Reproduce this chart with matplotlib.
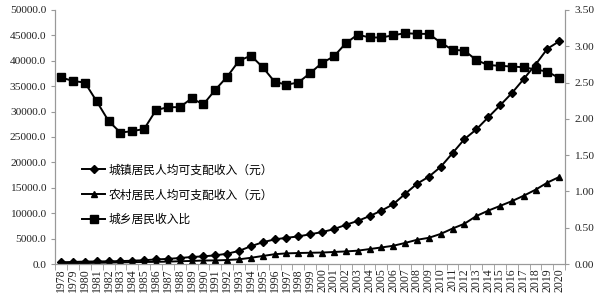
import matplotlib
matplotlib.use("Agg")
import matplotlib.pyplot as plt
import numpy as np
from matplotlib.ticker import FormatStrFormatter, FixedLocator

years = [str(y) for y in range(1978, 2021)]

urban = [343.4, 405.0, 477.6, 500.4, 535.3, 564.6, 652.1, 739.1, 900.9, 1002.1,
         1180.2, 1373.9, 1510.2, 1700.6, 2026.6, 2577.4, 3496.2, 4283.0, 4838.9, 5160.3,
         5425.1, 5854.0, 6280.0, 6859.6, 7702.8, 8472.2, 9421.6, 10493.0, 11759.5, 13785.8,
         15780.8, 17174.7, 19109.4, 21809.8, 24564.7, 26467.0, 28844.0, 31195.0, 33616.0, 36396.0,
         39251.0, 42359.0, 43834.0]

rural = [133.6, 160.2, 191.3, 223.4, 270.1, 309.8, 355.3, 397.6, 423.8, 462.6,
         544.9, 601.5, 686.3, 708.6, 784.0, 921.6, 1221.0, 1577.7, 1926.1, 2090.1,
         2162.0, 2210.3, 2253.4, 2366.4, 2475.6, 2622.2, 2936.4, 3254.9, 3587.0, 4140.4,
         4760.6, 5153.2, 5919.0, 6977.3, 7916.6, 9430.0, 10489.0, 11422.0, 12363.0, 13432.0,
         14617.0, 16021.0, 17131.0]

ratio = [2.57, 2.52, 2.50, 2.24, 1.97, 1.81, 1.83, 1.86, 2.12, 2.16,
         2.16, 2.28, 2.20, 2.40, 2.58, 2.80, 2.87, 2.71, 2.51, 2.47,
         2.50, 2.63, 2.77, 2.86, 3.04, 3.16, 3.12, 3.12, 3.15, 3.18,
         3.17, 3.17, 3.05, 2.95, 2.94, 2.81, 2.74, 2.73, 2.72, 2.71,
         2.68, 2.65, 2.56]

labels = ["城镇居民人均可支配收入（元）", "农村居民人均可支配收入（元）", "城乡居民收入比"]

plt.rcParams['font.family'] = ['Liberation Serif', 'Noto Sans CJK SC', 'DejaVu Sans']

fig = plt.figure(figsize=(6, 3), dpi=100)
ax = fig.add_axes([0.092, 0.12, 0.85, 0.847])
ax2 = ax.twinx()

x = np.arange(len(years))
l1, = ax.plot(x, urban, color='black', lw=1.4, marker='D', ms=4, label=labels[0])
l2, = ax.plot(x, rural, color='black', lw=1.4, marker='^', ms=5, label=labels[1])
l3, = ax2.plot(x, ratio, color='black', lw=1.4, marker='s', ms=5.5, label=labels[2])

ax.set_xlim(-0.5, len(years) - 0.5)
ax.set_ylim(0, 50000)
ax.set_yticks(np.arange(0, 50001, 5000))
ax.yaxis.set_major_formatter(FormatStrFormatter('%.1f'))
ax2.set_ylim(0, 3.5)
ax2.set_yticks(np.arange(0, 3.51, 0.5))
ax2.yaxis.set_major_formatter(FormatStrFormatter('%.2f'))

ax.set_xticks(x)
ax.set_xticklabels(years, rotation=90, fontsize=8.5)
ax.tick_params(axis='x', which='major', length=0, pad=3)
ax.xaxis.set_minor_locator(FixedLocator(np.arange(-0.5, len(years), 1.0)))
ax.tick_params(axis='x', which='minor', length=4, color='#999999')

gray = '#999999'
for a in (ax, ax2):
    a.spines['top'].set_visible(False)
    for s in ('left', 'right', 'bottom'):
        a.spines[s].set_color(gray)
ax.tick_params(axis='y', labelsize=8.2, length=3, color=gray, labelcolor='#222222')
ax2.tick_params(axis='y', labelsize=8.2, length=3, color=gray, labelcolor='#222222')
ax.tick_params(axis='x', labelcolor='#222222')

leg = ax.legend(handles=[l1, l2, l3], loc='upper left', bbox_to_anchor=(0.052, 0.395),
                frameon=False, borderaxespad=0, borderpad=0, handlelength=2.0,
                handletextpad=0.3, labelspacing=1.0,
                prop={'family': ['Noto Sans CJK SC', 'DejaVu Sans'], 'size': 8.5})

fig.savefig('out.png', dpi=100)
